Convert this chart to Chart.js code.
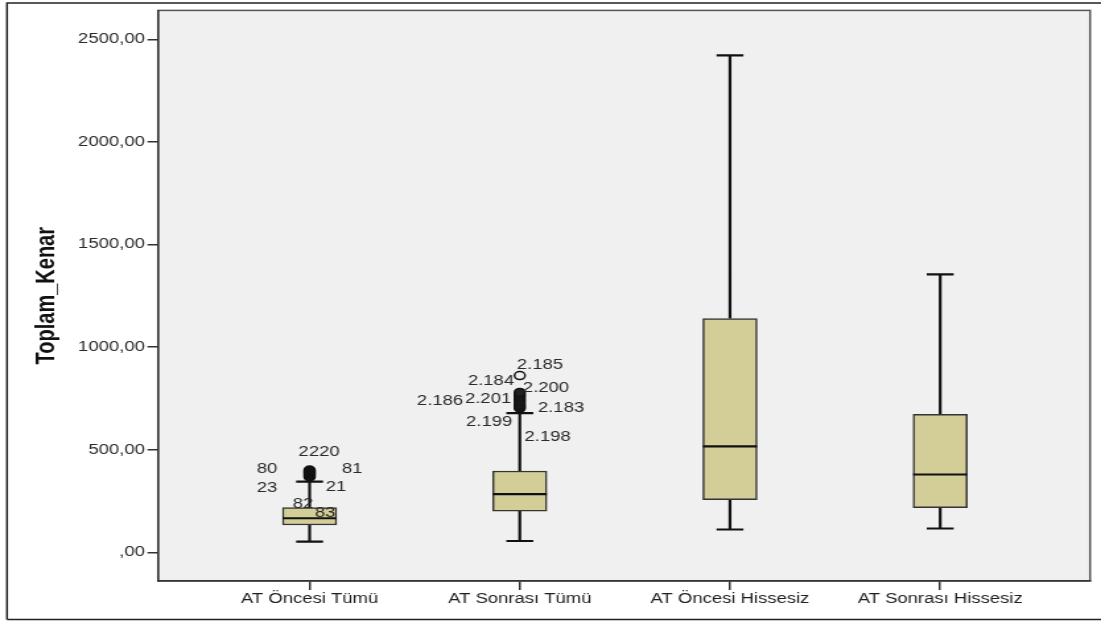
<!DOCTYPE html>
<html>
<head>
<meta charset="utf-8">
<title>Toplam_Kenar</title>
<script src="https://cdn.jsdelivr.net/npm/chart.js@4.4.1/dist/chart.umd.min.js"></script>
<style>
  html, body { margin: 0; padding: 0; background: #ffffff; overflow: hidden; }
  #wrap { width: 1101px; height: 621px; overflow: hidden; }
  /* the chart is laid out narrow and widened horizontally */
  #chart { display: block; transform: scaleX(1.32014); transform-origin: 0 0; }
</style>
</head>
<body>
<div id="wrap"><canvas id="chart" width="834" height="621"></canvas></div>
<script>
// Box plot of Toplam_Kenar by group
const categories = ['AT Öncesi Tümü', 'AT Sonrası Tümü', 'AT Öncesi Hissesiz', 'AT Sonrası Hissesiz'];
const whiskerLow  = [53, 56, 112, 117];
const q1          = [134, 202, 258, 219];
const median      = [167, 284, 517, 380];
const q3          = [219, 397, 1140, 673];
const whiskerHigh = [345, 679, 2422, 1355];

// outlying cases per group
const outliers1 = [368, 372, 377, 381, 386, 390, 394, 398, 402];
const outliers2 = [703, 712, 722, 734, 746, 758, 769, 780, 862];

// case-number labels next to the outliers (group position, value)
const caseLabels = ['2220', '80', '81', '23', '21', '82', '83',
                    '2.185', '2.184', '2.200', '2.186', '2.201', '2.183', '2.199', '2.198'];
const caseLabelX = [1.045, 0.798, 1.202, 0.798, 1.126, 0.969, 1.074,
                    2.096, 1.863, 2.125, 1.621, 1.849, 2.196, 1.854, 2.132];
const caseLabelY = [489, 407, 407, 314, 319, 236, 192,
                    913, 835, 801, 738, 747, 704, 635, 562];

const yTicks = [0, 500, 1000, 1500, 2000, 2500];
const yTickLabels = [',00', '500,00', '1000,00', '1500,00', '2000,00', '2500,00'];

const CAP = 0.064;   // half width of whisker caps, in group units
const HALF = 0.1285; // half width of a box, in group units

const GAP = (x) => ({ x: x, y: null });

const whiskerPts = [];
const capPts = [];
const medianPts = [];
categories.forEach((c, i) => {
  const x = i + 1;
  whiskerPts.push({ x, y: whiskerLow[i] }, { x, y: q1[i] }, GAP(x),
                  { x, y: q3[i] }, { x, y: whiskerHigh[i] }, GAP(x));
  capPts.push({ x: x - CAP, y: whiskerLow[i] }, { x: x + CAP, y: whiskerLow[i] }, GAP(x),
              { x: x - CAP, y: whiskerHigh[i] }, { x: x + CAP, y: whiskerHigh[i] }, GAP(x));
  medianPts.push({ x: x - HALF, y: median[i] }, { x: x + HALF, y: median[i] }, GAP(x));
});

const boxData = categories.map((c, i) => ({ x: i + 1, y: [q1[i], q3[i]] }));
const outlierPts = outliers1.map(v => ({ x: 1, y: v })).concat(outliers2.map(v => ({ x: 2, y: v })));
// crowded cases merge into a solid mark; the lone top case stays open
const outlierFill = outliers1.map(() => '#111')
  .concat(outliers2.map((v, i) => (i === outliers2.length - 1 ? '#f0f0f0' : '#222')));

Chart.defaults.font.family = "'Liberation Sans', Arial, sans-serif";
Chart.defaults.font.size = 14;

const frame = {
  id: 'frame',
  beforeDraw(chart) {
    const { ctx, chartArea: a } = chart;
    ctx.save();
    ctx.fillStyle = '#ffffff';
    ctx.fillRect(0, 0, chart.width, chart.height);
    ctx.fillStyle = '#f0f0f0';
    ctx.fillRect(a.left, a.top, a.right - a.left, a.bottom - a.top);
    // outer frame
    ctx.strokeStyle = '#222';
    ctx.lineWidth = 1.5;
    ctx.beginPath();
    ctx.moveTo(5.3, 619.5);
    ctx.lineTo(5.3, 3);
    ctx.lineTo(chart.width + 5, 3);
    ctx.moveTo(5.3, 619.5);
    ctx.lineTo(chart.width + 5, 619.5);
    ctx.stroke();
    // plot frame
    ctx.strokeStyle = '#555';
    ctx.lineWidth = 1.5;
    ctx.strokeRect(a.left, a.top, a.right - a.left, a.bottom - a.top);
    ctx.restore();
  },
  afterDatasetsDraw(chart) {
    const { ctx, scales: { x, y } } = chart;
    ctx.save();
    ctx.font = "14px 'Liberation Sans', Arial, sans-serif";
    ctx.fillStyle = '#2a2a2a';
    ctx.textAlign = 'center';
    ctx.textBaseline = 'middle';
    caseLabels.forEach((t, i) => {
      ctx.fillText(t, x.getPixelForValue(caseLabelX[i]), y.getPixelForValue(caseLabelY[i]));
    });
    ctx.restore();
  }
};

new Chart(document.getElementById('chart'), {
  type: 'bar',
  data: {
    datasets: [
      {
        type: 'line', data: medianPts, order: 0,
        borderColor: '#111', borderWidth: 2.2, pointRadius: 0, spanGaps: false, tension: 0
      },
      {
        type: 'line', data: outlierPts, order: 1, showLine: false,
        pointRadius: 4, pointBorderWidth: 1.5, pointBorderColor: '#111',
        pointBackgroundColor: outlierFill
      },
      {
        type: 'bar', data: boxData, order: 2,
        backgroundColor: '#d3ce97', borderColor: '#333', borderWidth: 1.5,
        barThickness: 41, borderSkipped: false
      },
      {
        type: 'line', data: whiskerPts, order: 3,
        borderColor: '#111', borderWidth: 2.2, pointRadius: 0, spanGaps: false, tension: 0
      },
      {
        type: 'line', data: capPts, order: 4,
        borderColor: '#111', borderWidth: 2.2, pointRadius: 0, spanGaps: false, tension: 0
      }
    ]
  },
  options: {
    responsive: false,
    animation: false,
    devicePixelRatio: 1,
    layout: { padding: { left: 0, top: 10, right: 8.3, bottom: 0 } },
    plugins: { legend: { display: false }, tooltip: { enabled: false } },
    scales: {
      x: {
        type: 'linear',
        offset: false,
        min: 0.279,
        max: 4.713,
        afterBuildTicks: s => { s.ticks = categories.map((c, i) => ({ value: i + 1 })); },
        afterFit: s => { s.height = 40; },
        ticks: {
          color: '#1e1e1e', padding: 1, maxRotation: 0, autoSkip: false,
          callback: (v) => categories[Math.round(v) - 1]
        },
        grid: { display: true, offset: false, drawOnChartArea: false, drawTicks: true, tickLength: 9, color: '#333', lineWidth: 1.5 },
        border: { display: true, color: '#333', width: 1.5 }
      },
      y: {
        type: 'linear',
        min: -138.8,
        max: 2641,
        afterBuildTicks: s => { s.ticks = yTicks.map(v => ({ value: v })); },
        afterFit: s => { s.width = 119.7; },
        ticks: {
          color: '#2a2a2a', padding: 2,
          callback: (v) => yTickLabels[yTicks.indexOf(v)]
        },
        grid: { display: true, drawOnChartArea: false, drawTicks: true, tickLength: 8, color: '#333', lineWidth: 1.5 },
        border: { display: true, color: '#333', width: 1.5 },
        title: {
          display: true, text: 'Toplam_Kenar', color: '#111',
          font: { size: 20, weight: 'bold' }, padding: { top: 23, bottom: 0 }
        }
      }
    }
  },
  plugins: [frame]
});
</script>
</body>
</html>
